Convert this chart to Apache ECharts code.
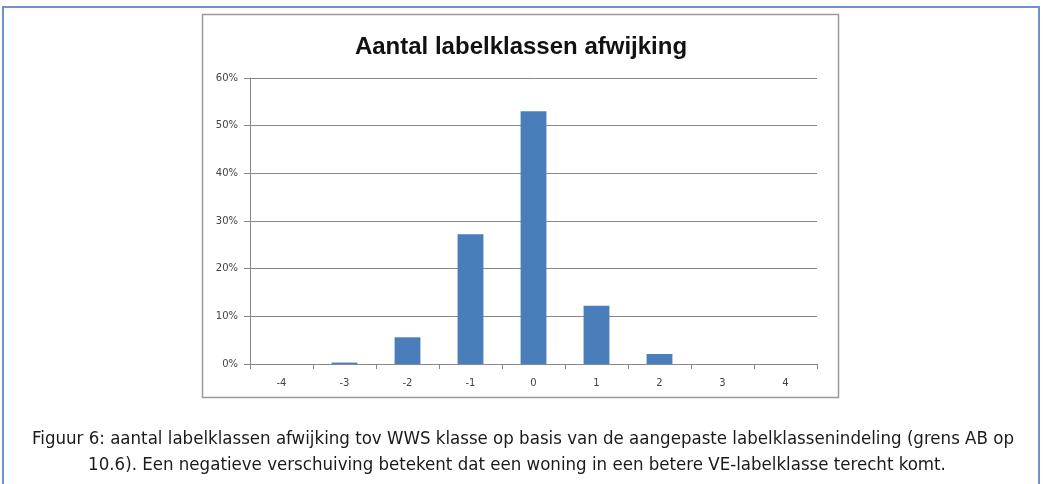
<!DOCTYPE html>
<html>
<head>
<meta charset="utf-8">
<script src="https://cdn.jsdelivr.net/npm/echarts@6/dist/echarts.min.js"></script>
<style>
  html, body { margin: 0; padding: 0; background: #fff; }
  #chart { width: 1043px; height: 484px; }
</style>
</head>
<body>
<div id="chart"></div>
<script>
// klassen afwijking en aandeel woningen (%)
const categories = ["-4", "-3", "-2", "-1", "0", "1", "2", "3", "4"];
const shares = [0, 0.3, 5.6, 27.2, 53, 12.2, 2.1, 0, 0];
const yTicks = [0, 10, 20, 30, 40, 50, 60];

const chartTitle = "Aantal labelklassen afwijking";
const caption = [
    "Figuur 6: aantal labelklassen afwijking tov WWS klasse op basis van de aangepaste labelklassenindeling (grens AB op",
    "10.6). Een negatieve verschuiving betekent dat een woning in een betere VE-labelklasse terecht komt."
];

const captionStyle = {
    fontFamily: "DejaVu Sans Condensed, DejaVu Sans, sans-serif",
    fontSize: 18.5,
    fontWeight: "normal",
    color: "#1a1a1a"
};

const chart = echarts.init(document.getElementById("chart"));

const option = {
    animation: false,
    title: [
        {
            text: chartTitle,
            left: 516,
            top: 30,
            textAlign: "center",
            textStyle: {
                fontFamily: "Liberation Sans Narrow, Liberation Sans, sans-serif",
                fontSize: 24,
                fontWeight: "bold",
                color: "#111"
            }
        },
        {
            text: caption[0],
            left: 518,
            top: 425,
            textAlign: "center",
            textStyle: captionStyle
        },
        {
            text: caption[1],
            left: 512,
            top: 451,
            textAlign: "center",
            textStyle: captionStyle
        }
    ],
    graphic: [
        // blauwe kader rond figuur
        {
            type: "rect",
            shape: { x: 3, y: 7, width: 1036, height: 490 },
            style: { fill: null, stroke: "#6f93c9", lineWidth: 2 },
            silent: true
        },
        // grijze kader rond grafiek
        {
            type: "rect",
            shape: { x: 202.5, y: 14.5, width: 636, height: 383 },
            style: { fill: null, stroke: "#9a9a9a", lineWidth: 1.5 },
            silent: true
        }
    ],
    grid: {
        left: 250,
        right: 226,
        top: 78,
        bottom: 120
    },
    xAxis: {
        type: "category",
        data: categories,
        axisLine: { lineStyle: { color: "#888", width: 1 } },
        axisTick: { show: true, length: 5, lineStyle: { color: "#888" } },
        axisLabel: {
            fontSize: 10,
            color: "#444",
            margin: 14,
            fontFamily: "DejaVu Sans, sans-serif"
        }
    },
    yAxis: {
        type: "value",
        min: 0,
        max: 60,
        interval: 10,
        axisLine: { show: true, lineStyle: { color: "#888", width: 1 } },
        axisTick: { show: true, length: 6, lineStyle: { color: "#888" } },
        splitLine: { lineStyle: { color: "#888", width: 1 } },
        axisLabel: {
            fontSize: 10,
            color: "#444",
            margin: 12,
            fontFamily: "DejaVu Sans, sans-serif",
            formatter: function (v) {
                return yTicks.indexOf(v) >= 0 ? v + "%" : "";
            }
        }
    },
    series: [
        {
            type: "bar",
            data: shares,
            barWidth: "41%",
            itemStyle: { color: "#4a7ebb" }
        }
    ]
};

chart.setOption(option);
</script>
</body>
</html>
